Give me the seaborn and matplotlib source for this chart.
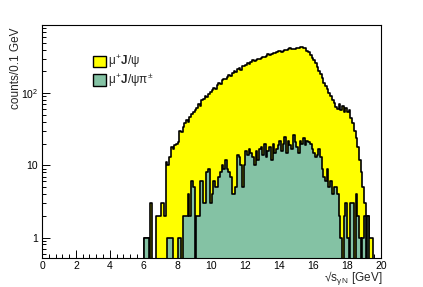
import numpy as np
import pandas as pd
import matplotlib
matplotlib.use("Agg")
import matplotlib.pyplot as plt
from matplotlib.patches import Patch
from matplotlib.ticker import MultipleLocator, FixedLocator, FixedFormatter, LogLocator
import seaborn as sns

# --- data: counts per 0.1 GeV bin, first bin starts at 6.0 GeV ---
first_edge = 6.0
bin_width = 0.1

jpsi_counts = [
    1, 1, 1, 0, 3, 0, 0, 2, 2, 2,                          # 6.x
    3, 3, 2, 11, 10, 13, 18, 17, 19, 20,                   # 7.x
    21, 30, 29, 34, 38, 42, 40, 47, 52, 55,                # 8.x
    58, 63, 70, 66, 80, 82, 90, 88, 98, 105,               # 9.x
    110, 118, 115, 130, 140, 135, 150, 158, 155, 170,      # 10.x
    178, 175, 190, 200, 195, 215, 220, 212, 235, 240,      # 11.x
    245, 260, 255, 270, 285, 280, 290, 300, 295, 310,      # 12.x
    320, 315, 330, 345, 335, 350, 365, 355, 370, 380,      # 13.x
    385, 375, 390, 400, 395, 410, 420, 405, 415, 410,      # 14.x
    425, 420, 430, 440, 425, 420, 390, 370, 340, 310,      # 15.x
    290, 260, 230, 200, 185, 160, 140, 125, 115, 100,      # 16.x
    90, 80, 72, 65, 60, 70, 58, 66, 55, 62,                # 17.x
    55, 58, 45, 38, 30, 24, 18, 12, 8, 5,                  # 18.x
    3, 2, 2, 1, 1,                                         # 19.x
]

jpsipi_counts = [
    1, 1, 1, 0, 0, 0, 0, 0, 0, 0,                          # 6.x
    0, 0, 0, 0, 1, 1, 1, 0, 0, 0,                          # 7.x
    1, 1, 0, 2, 2, 2, 4, 2, 6, 5,                          # 8.x
    0, 2, 2, 6, 6, 3, 3, 8, 9, 3,                          # 9.x
    4, 6, 5, 5, 7, 8, 10, 9, 12, 9,                        # 10.x
    8, 7, 4, 4, 5, 14, 13, 10, 5, 10,                      # 11.x
    16, 14, 17, 15, 13, 10, 16, 12, 17, 18,                # 12.x
    14, 20, 13, 16, 18, 12, 20, 15, 17, 19,                # 13.x
    22, 16, 20, 25, 15, 22, 19, 17, 26, 21,                # 14.x
    18, 15, 22, 20, 24, 19, 22, 21, 20, 17,                # 15.x
    15, 13, 14, 17, 13, 9, 7, 6, 9, 5,                     # 16.x
    6, 4, 5, 5, 4, 2, 1, 0, 2, 3,                          # 17.x
    1, 0, 3, 3, 0, 4, 2, 1, 0, 1,                          # 18.x
    2, 0, 2, 0, 0,                                         # 19.x
]

series_labels = [r"$\mu^{+}\mathbf{J}/\psi$", r"$\mu^{+}\mathbf{J}/\psi\pi^{\pm}$"]
series_colors = ["#ffff00", "#84c2a4"]

# --- style ---
sns.set_theme(style="ticks")
plt.rcParams['font.family'] = ['Liberation Sans', 'DejaVu Sans']
plt.rcParams['mathtext.fontset'] = 'custom'
plt.rcParams['mathtext.rm'] = 'Liberation Sans'
plt.rcParams['mathtext.it'] = 'Liberation Sans'
plt.rcParams['mathtext.bf'] = 'Liberation Sans:bold'
plt.rcParams['axes.unicode_minus'] = False

fig = plt.figure(figsize=(4.23, 2.87), dpi=100)
ax = fig.add_axes([42 / 423, 29 / 287, 339 / 423, 233 / 287])

n_bins = len(jpsi_counts)
centers = np.round(first_edge + bin_width * (np.arange(n_bins) + 0.5), 3)
hist_df = pd.DataFrame({"mass": centers,
                        "jpsi": jpsi_counts,
                        "jpsipi": jpsipi_counts})

for col_name, col in zip(["jpsi", "jpsipi"], series_colors):
    sns.histplot(data=hist_df, x="mass", weights=col_name,
                 binwidth=bin_width,
                 binrange=(first_edge, first_edge + n_bins * bin_width),
                 element="step", fill=True, color=col, alpha=1,
                 edgecolor="black", linewidth=1.2, ax=ax)

ax.set_yscale("log")
ax.set_xlim(0, 20)
ax.set_ylim(0.52, 880)

ax.xaxis.set_major_locator(MultipleLocator(2))
ax.xaxis.set_minor_locator(MultipleLocator(0.4))
ax.yaxis.set_major_locator(FixedLocator([1, 10, 100]))
ax.yaxis.set_major_formatter(FixedFormatter(["1", "10", r"10$^{2}$"]))
ax.yaxis.set_minor_locator(LogLocator(base=10, subs=np.arange(2, 10)))
ax.yaxis.set_minor_formatter(FixedFormatter([]))
ax.tick_params(which="both", direction="in", top=False, right=False,
               labelsize=7.5, width=0.7, colors="black")
ax.tick_params(axis="y", pad=3)
ax.tick_params(axis="x", pad=2)
ax.tick_params(which="major", length=6)
ax.tick_params(which="minor", length=3)
for sp in ax.spines.values():
    sp.set_linewidth(0.8)
    sp.set_color("black")
    sp.set_visible(True)

ax.set_xlabel("\u221as$_{\\gamma\\,N}$ [GeV]", fontsize=8.5, ha="right", va="top")
ax.xaxis.set_label_coords(1.003, -0.05)
ax.set_ylabel("counts/0.1 GeV", fontsize=8.5, ha="right", va="bottom")
ax.yaxis.set_label_coords(-0.06, 0.988)

handles = [Patch(facecolor=c, edgecolor="black", linewidth=1.0) for c in series_colors]
ax.legend(handles, series_labels, loc="upper left", bbox_to_anchor=(0.136, 0.898),
          frameon=False, fontsize=8.5, handlelength=1.1, handleheight=1.1,
          handletextpad=0.2, labelspacing=0.1, borderaxespad=0)

fig.savefig("out.png", dpi=100)
